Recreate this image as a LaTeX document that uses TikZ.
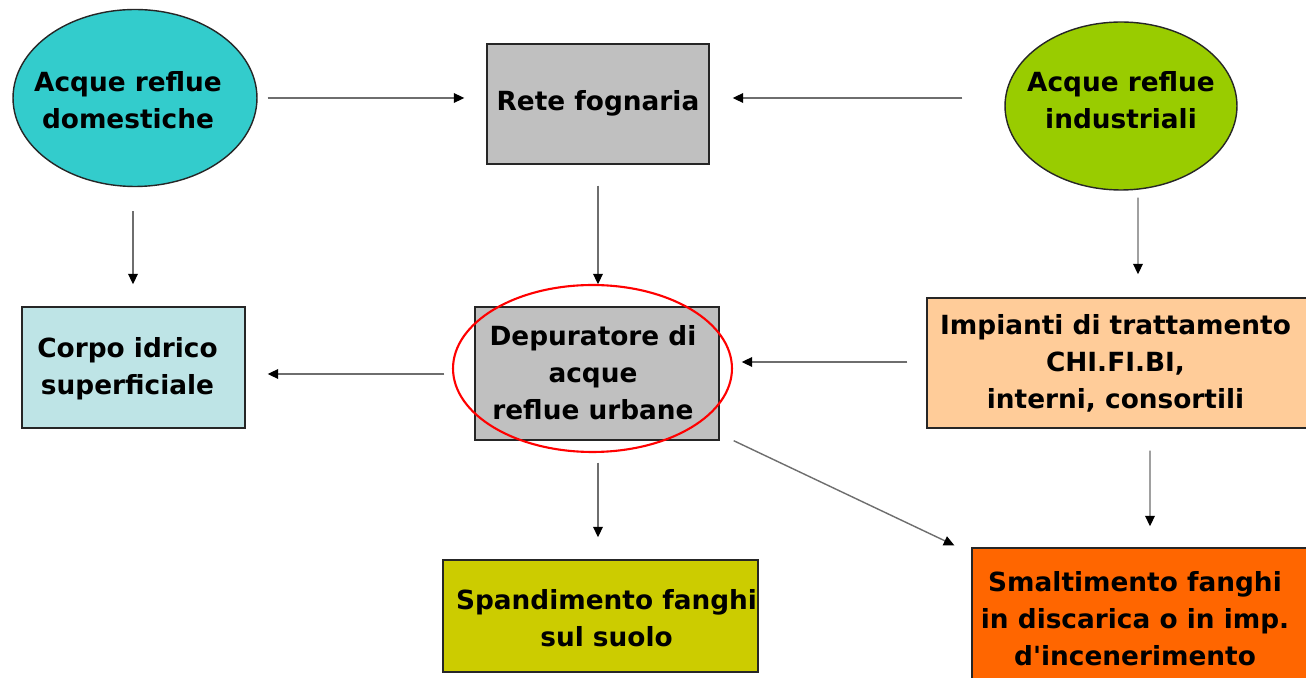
\documentclass[tikz,border=0pt]{standalone}
\usepackage{fontspec}
\setmainfont{DejaVu Sans}[Ligatures=TeXOff]
\usetikzlibrary{arrows.meta,calc,shapes.geometric}

\definecolor{domcol}{RGB}{51,204,204}
\definecolor{indcol}{RGB}{153,204,0}
\definecolor{greycol}{RGB}{192,192,192}
\definecolor{corpocol}{RGB}{190,228,230}
\definecolor{impcol}{RGB}{255,204,153}
\definecolor{spandcol}{RGB}{204,204,0}
\definecolor{smaltcol}{RGB}{255,102,0}
\definecolor{linecol}{RGB}{110,110,110}

\tikzset{
  lbl/.style={font=\bfseries\fontsize{15}{21}\selectfont, align=center, text=black},
  oval/.style={ellipse, draw=black!85, line width=0.8pt, inner sep=0pt},
  box/.style={rectangle, draw=black!85, line width=0.8pt, inner sep=0pt},
  flow/.style={draw=linecol, line width=0.8pt,
    -{Triangle[length=6pt,width=5.5pt,color=black]}},
}

\begin{document}
\begin{tikzpicture}[x=0.02cm, y=-0.02cm]
\useasboundingbox (0,0) rectangle (1306,678);
\clip (0,0) rectangle (1306,678);
\fill[white] (0,0) rectangle (1306,678);

% sources
\node[oval, fill=domcol, minimum width=4.88cm, minimum height=3.54cm] (dom) at (135,98) {};
\node[lbl] at ($(dom)+(-7,2)$) {Acque reflue\\domestiche};
\node[box, fill=greycol, minimum width=4.44cm, minimum height=2.40cm] (rete) at (598,104) {};
\node[lbl] at ($(rete)+(0,-1)$) {Rete fognaria};
\node[oval, fill=indcol, minimum width=4.64cm, minimum height=3.36cm] (ind) at (1121,106) {};
\node[lbl] at ($(ind)+(0,-6)$) {Acque reflue\\industriali};

% treatment level
\node[box, fill=corpocol, minimum width=4.46cm, minimum height=2.42cm] (corpo) at (133.5,367.5) {};
\node[lbl] at ($(corpo)+(-6,1)$) {Corpo idrico\\superficiale};
\node[box, fill=greycol, minimum width=4.88cm, minimum height=2.66cm] (depur) at (597,373.5) {};
\node[lbl] at ($(depur)+(-4,-1)$) {Depuratore di\\acque\\reflue urbane};
\node[box, fill=impcol, minimum width=7.66cm, minimum height=2.60cm] (imp) at (1118.5,363) {};
\node[lbl] at ($(imp)+(-3,0)$) {Impianti di trattamento\\CHI.FI.BI,\\interni, consortili};

% sludge destinations
\node[box, fill=spandcol, minimum width=6.30cm, minimum height=2.24cm] (spand) at (600.5,616) {};
\node[lbl] at ($(spand)+(6,2)$) {Spandimento fanghi\\sul suolo};
\node[box, fill=smaltcol, minimum width=6.76cm, minimum height=2.68cm] (smalt) at (1141,615) {};
\node[lbl] at ($(smalt)+(-6,4)$) {Smaltimento fanghi\\in discarica o in imp.\\d'incenerimento};

% highlight round the urban plant
\draw[red, line width=1.2pt] (592.5,368.5) ellipse [x radius=2.79cm, y radius=1.67cm];

% connectors
\draw[flow] ($(dom.east)+(10,0)$) -- ($(rete.west)+(-22,-6)$);
\draw[flow] ($(ind.west)+(-42,-8)$) -- ($(rete.east)+(23,-6)$);
\draw[flow] ($(dom.south)+(-2,24)$) -- ($(corpo.north)+(-0.5,-22)$);
\draw[flow] ($(rete.south)+(0,21)$) -- ($(depur.north)+(1,-22)$);
\draw[flow] ($(ind.south)+(17,7)$) -- ($(imp.north)+(19.5,-23)$);
\draw[flow] ($(depur.west)+(-30,0.5)$) -- ($(corpo.east)+(22,6.5)$);
\draw[flow] ($(imp.west)+(-19,-1)$) -- ($(depur.east)+(22,-11.5)$);
\draw[flow] ($(depur.south)+(1,22)$) -- ($(spand.north)+(-2.5,-22)$);
\draw[flow] ($(depur.south east)+(14,0)$) -- ($(smalt.north west)+(-17,-2)$);
\draw[flow] ($(imp.south)+(31.5,22)$) -- ($(smalt.north)+(9,-21)$);
\end{tikzpicture}
\end{document}
